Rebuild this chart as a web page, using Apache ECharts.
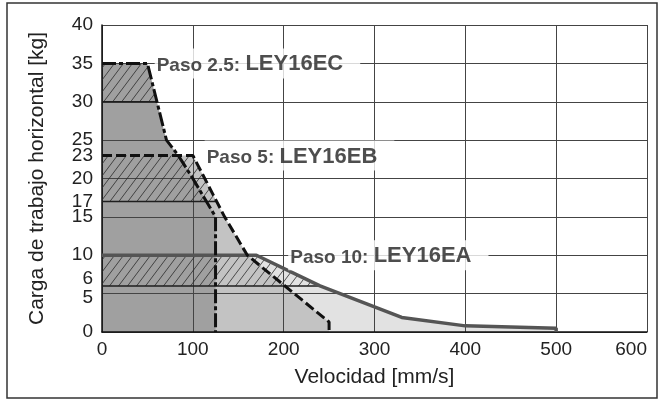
<!DOCTYPE html>
<html><head><meta charset="utf-8">
<script src="https://cdn.jsdelivr.net/npm/echarts@6/dist/echarts.min.js"></script>
<style>html,body{margin:0;padding:0;background:#fff}#c{width:660px;height:400px}</style>
</head><body><div id="c"></div>
<script>
// ---- data ----
const xMin = 0, xMax = 600, xStep = 100;
const yMin = 0, yMax = 40, yStep = 5;
const yTickLabels = [0, 5, 6, 10, 15, 17, 20, 23, 25, 30, 35, 40];
// curves: [velocity mm/s, load kg]
const curveEC = [[0, 35], [50, 35], [71, 25], [84, 23], [100, 20], [125, 15], [125, 0]];
const curveEB = [[0, 23], [100, 23], [135, 15], [160, 10], [250, 1.3], [250, 0]];
const curveEA = [[0, 10], [170, 10], [240, 6], [330, 1.9], [400, 0.8], [500, 0.5], [500, 0]];
// hatched bands (low, high) for EC, EB, EA
const bandLow = [30, 17, 6];
const bandHigh = [35, 23, 10];
// annotations
const notePrefix = ['Paso 2.5: ', 'Paso 5: ', 'Paso 10: '];
const noteModel = ['LEY16EC', 'LEY16EB', 'LEY16EA'];
const noteAnchor = [[58, 35], [113, 23], [205, 10]];

const FONT = '"Liberation Sans", Arial, Helvetica, sans-serif';
const curves = [curveEC, curveEB, curveEA];

function clipCurve(curve, y0, y1) {
  const pts = [];
  const inside = y => y >= y0 - 1e-9 && y <= y1 + 1e-9;
  for (let i = 0; i < curve.length - 1; i++) {
    const [xa, ya] = curve[i], [xb, yb] = curve[i + 1];
    if (i === 0 && inside(ya)) pts.push([xa, ya]);
    for (const yc of [y1, y0]) {
      if ((ya - yc) * (yb - yc) < 0) {
        const t = (yc - ya) / (yb - ya);
        pts.push([xa + t * (xb - xa), yc]);
      }
    }
    if (inside(yb)) pts.push([xb, yb]);
  }
  return pts;
}

function makeHatch() {
  const c = document.createElement('canvas');
  c.width = 9; c.height = 12;
  const g = c.getContext('2d');
  g.strokeStyle = '#2a2a2a'; g.lineWidth = 0.8;
  g.beginPath();
  g.moveTo(0, 12); g.lineTo(9, 0);
  g.moveTo(-9, 12); g.lineTo(0, 0);
  g.moveTo(9, 12); g.lineTo(18, 0);
  g.stroke();
  return c;
}
const hatch = makeHatch();

function fillSeries(curve, color, z) {
  const poly = curve.concat([[0, 0]]);
  return {
    type: 'custom', z: z, silent: true, clip: true, data: [[0, 0]],
    renderItem: (p, api) => ({
      type: 'polygon',
      shape: { points: poly.map(q => api.coord(q)) },
      style: { fill: color, stroke: null }
    })
  };
}

function bandSeries(curve, y0, y1) {
  const pts = clipCurve(curve, y0, y1);
  const poly = [[0, y1]].concat(pts, [[0, y0]]);
  const edge = [[0, y0], pts[pts.length - 1]];
  return {
    type: 'custom', z: 3, silent: true, clip: true, data: [[0, 0]],
    renderItem: (p, api) => ({
      type: 'group',
      children: [
        { type: 'polygon', shape: { points: poly.map(q => api.coord(q)) },
          style: { fill: { image: hatch, repeat: 'repeat' }, stroke: null } },
        { type: 'polyline', shape: { points: edge.map(q => api.coord(q)) },
          style: { stroke: '#1e1e1e', lineWidth: 1.4, fill: null } }
      ]
    })
  };
}

const series = [
  fillSeries(curveEA, '#e2e2e2', 1),
  fillSeries(curveEB, '#c3c3c3', 1),
  fillSeries(curveEC, '#a0a0a0', 1),
  ...curves.map((c, i) => bandSeries(c, bandLow[i], bandHigh[i])),
  { type: 'line', z: 5, data: curveEA, showSymbol: false, silent: true,
    lineStyle: { color: '#555', width: 3.5, type: 'solid' } },
  { type: 'line', z: 5, data: curveEB, showSymbol: false, silent: true,
    lineStyle: { color: '#111', width: 3, type: [10, 4] } },
  { type: 'line', z: 5, data: curveEC, showSymbol: false, silent: true,
    lineStyle: { color: '#111', width: 3, type: [14, 3, 4, 3] } },
  { type: 'scatter', z: 6, symbolSize: 0, silent: true,
    data: noteAnchor.map((a, i) => ({
      value: a,
      label: { formatter: '{a|' + notePrefix[i] + '}{b|' + noteModel[i] + '}' }
    })),
    label: {
      show: true, position: 'right', distance: 0,
      backgroundColor: '#fff', padding: [3, 17, 3, 2],
      rich: {
        a: { fontFamily: FONT, fontSize: 19, fontWeight: 'bold', color: '#222', verticalAlign: 'bottom', lineHeight: 24 },
        b: { fontFamily: FONT, fontSize: 22, fontWeight: 'bold', color: '#222', verticalAlign: 'bottom', lineHeight: 24 }
      }
    }
  }
];

const chart = echarts.init(document.getElementById('c'), null, { renderer: 'canvas' });
chart.setOption({
  animation: false,
  backgroundColor: '#fff',
  grid: { left: 102, right: 13, top: 25, bottom: 68 },
  graphic: [{
    type: 'rect', z: 100, silent: true,
    shape: { x: 7, y: 3, width: 650, height: 395 },
    style: { fill: null, stroke: '#333', lineWidth: 1.5 }
  }],
  xAxis: {
    type: 'value', min: xMin, max: xMax, interval: xStep, z: 2,
    axisLine: { show: true, lineStyle: { color: '#111', width: 1.5 } },
    axisTick: { show: false },
    splitLine: { show: true, lineStyle: { color: '#444', width: 1 } },
    axisLabel: { fontFamily: FONT, fontSize: 19, color: '#222', margin: 8, alignMaxLabel: 'right' },
    name: 'Velocidad [mm/s]', nameLocation: 'middle', nameGap: 35,
    nameTextStyle: { fontFamily: FONT, fontSize: 21, color: '#222' }
  },
  yAxis: {
    type: 'value', min: yMin, max: yMax, interval: yStep, z: 2,
    axisLine: { show: true, lineStyle: { color: '#111', width: 1.5 } },
    axisTick: { show: false },
    splitLine: { show: true, lineStyle: { color: '#444', width: 1 } },
    axisLabel: {
      customValues: yTickLabels,
      fontFamily: FONT, fontSize: 19, color: '#222', margin: 9,
      formatter: v => v === 6 ? '{u|6}' : (v === 5 ? '{d|5}' : String(v)),
      rich: {
        u: { fontFamily: FONT, fontSize: 19, color: '#222', padding: [0, 0, 14, 0] },
        d: { fontFamily: FONT, fontSize: 19, color: '#222', padding: [8, 0, 0, 0] }
      }
    },
    name: 'Carga de trabajo horizontal [kg]', nameLocation: 'middle', nameGap: 54,
    nameTextStyle: { fontFamily: FONT, fontSize: 21, color: '#222' }
  },
  series: series
});
</script>
</body></html>
